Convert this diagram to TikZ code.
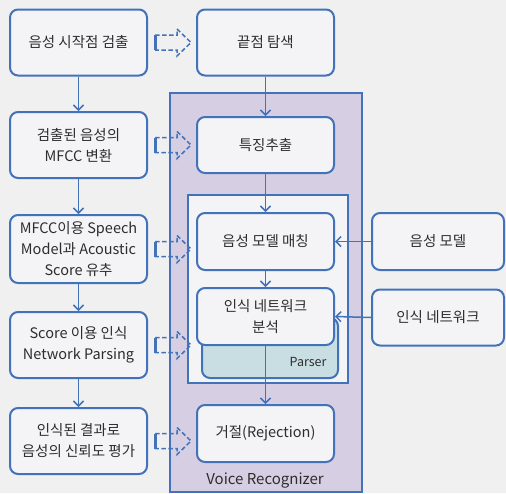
\documentclass[tikz,border=0pt]{standalone}
\usepackage{fontspec}
\setmainfont{Noto Sans CJK KR}
\usetikzlibrary{arrows.meta,calc}
\definecolor{boxblue}{RGB}{66,114,186}
\definecolor{bggray}{RGB}{240,240,240}
\definecolor{boxfill}{RGB}{244,244,246}
\definecolor{vrfill}{RGB}{214,206,226}
\definecolor{parserfill}{RGB}{200,222,226}
\definecolor{txt}{RGB}{45,45,45}
\newcommand{\hollowarrow}[2]{%
  \draw[hollow] let \p1=(#1.east), \p2=(#2.west) in
    (\x1+7pt,\y1+7.5pt) -- (\x2-19pt,\y1+7.5pt) -- (\x2-19pt,\y1+13.5pt) -- (\x2-5pt,\y1)
    -- (\x2-19pt,\y1-13.5pt) -- (\x2-19pt,\y1-7.5pt) -- (\x1+7pt,\y1-7.5pt);
  \draw[boxblue, line width=3pt] let \p1=(#1.east) in (\x1+7pt,\y1+7.5pt) -- (\x1+7pt,\y1-7.5pt);
}
\begin{document}
\begin{tikzpicture}[x=1pt, y=-1pt, >={Straight Barb[length=5pt,width=10pt]},
  box/.style={draw=boxblue, line width=2pt, fill=boxfill, rounded corners=8pt, align=center,
    text=txt, font=\fontsize{14.5}{21}\selectfont, inner sep=2pt},
  hollow/.style={draw=boxblue, line width=1.5pt, dash pattern=on 4.5pt off 2.5pt},
  link/.style={draw=boxblue, line width=1.5pt, ->}]
  \fill[bggray] (0,0) rectangle (506,493);
  \useasboundingbox (0,0) rectangle (506,493);

  \draw[boxblue, line width=2pt, fill=vrfill] (170,93) rectangle (362,492);
  \draw[boxblue, line width=2pt, fill=boxfill] (188,195) rectangle (348,383);
  \draw[boxblue, line width=2pt, fill=parserfill, rounded corners=8pt] (202,318) rectangle (338,378);
  \node[text=txt, font=\fontsize{12.5}{14}\selectfont, anchor=east] (parser) at (330,362) {Parser};
  \node[text=txt, font=\fontsize{15}{16}\selectfont] (vr) at (265,481) {Voice Recognizer};

  \node[box, minimum width=137pt, minimum height=66pt] (s1) at (78.5,42.5) {음성 시작점 검출};
  \node[box, minimum width=137pt, minimum height=66pt] (s2) at (78.5,145) {검출된 음성의\\MFCC 변환};
  \node[box, minimum width=137pt, minimum height=68pt] (s3) at (78.5,249) {MFCC이용 Speech\\Model과 Acoustic\\Score 유추};
  \node[box, minimum width=137pt, minimum height=66pt] (s4) at (78.5,345) {Score 이용 인식\\Network Parsing};
  \node[box, minimum width=137pt, minimum height=66pt] (s5) at (78.5,441) {인식된 결과로\\음성의 신뢰도 평가};

  \node[box, minimum width=137pt, minimum height=66pt] (m1) at (265.5,42.5) {끝점 탐색};
  \node[box, minimum width=137pt, minimum height=56pt] (m2) at (265.5,145) {특징추출};
  \node[box, minimum width=137pt, minimum height=57pt] (m3) at (265.5,241.5) {음성 모델 매칭};
  \node[box, minimum width=137pt, minimum height=57pt] (m4) at (265.5,316.5) {인식 네트워크\\분석};
  \node[box, minimum width=137pt, minimum height=57pt] (m5) at (265.5,433.5) {거절(Rejection)};

  \node[box, minimum width=132pt, minimum height=57pt] (r1) at (438,241.5) {음성 모델};
  \node[box, minimum width=132pt, minimum height=56pt] (r2) at (438,317.5) {인식 네트워크};

  \foreach \a/\b in {s1/s2, s2/s3, s3/s4, s4/s5, m1/m2, m2/m3, m3/m4, m4/m5}
    \draw[link] (\a.south) -- (\b.north);
  \draw[link] (r1.west) -- (m3.east);
  \draw[link] (r2.west) -- (m4.east);

  \foreach \a/\b in {s1/m1, s2/m2, s3/m3, s4/m4, s5/m5}
    {\hollowarrow{\a}{\b}}
\end{tikzpicture}
\end{document}
